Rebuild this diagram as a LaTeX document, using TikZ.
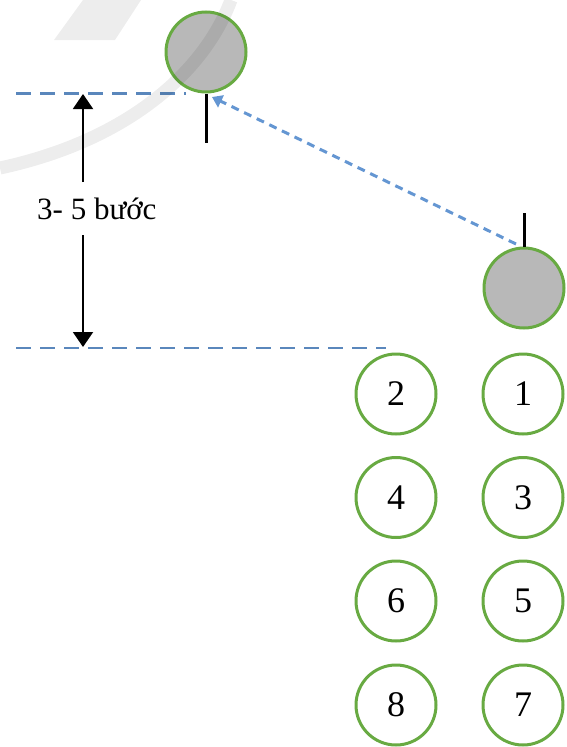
\documentclass[tikz,border=0pt]{standalone}
\usepackage{fontspec}
\setmainfont{Liberation Serif}
\usetikzlibrary{arrows.meta}
\definecolor{cgreen}{RGB}{104,170,66}
\definecolor{cgray}{RGB}{184,184,184}
\definecolor{cblue}{RGB}{90,135,188}
\definecolor{cblue2}{RGB}{100,150,210}
\tikzset{
  player/.style={circle, draw=cgreen, line width=3pt, fill=cgray, minimum size=80pt, inner sep=0pt},
  numbox/.style={circle, draw=cgreen, line width=3pt, fill=white, minimum size=80pt, inner sep=0pt, font=\fontsize{36}{36}\selectfont},
  guide/.style={cblue, dash pattern=on 15pt off 9pt},
  tickline/.style={black, line width=3pt},
  measure/.style={black, line width=2pt, -{Triangle[width=20pt,length=15pt]}},
  runpath/.style={cblue2, line width=3pt, dash pattern=on 8pt off 6pt, -{Triangle[width=13pt,length=10pt]}},
  watermark/.style={black, opacity=0.07},
}
\begin{document}
\begin{tikzpicture}[x=1pt,y=-1pt]
\useasboundingbox (0,0) rectangle (566,747);
% players
\node[player] (p0) at (206,52) {};
\node[player] (p1) at (524,288) {};
\coordinate (t0) at (206,143);
\coordinate (t1) at (524,213);
\draw[tickline] (p0.south) -- (t0);
\draw[tickline] (p1.north) -- (t1);
% guide lines
\coordinate (g1a) at (16,93);
\coordinate (g1b) at (186,93);
\coordinate (g2a) at (16,348);
\coordinate (g2b) at (386,348);
\draw[guide, line width=3pt] (g1a) -- (g1b);
\draw[guide, line width=2pt] (g2a) -- (g2b);
% measure
\node[font=\fontsize{31}{31}\selectfont, inner sep=0pt, anchor=base west] (lbl) at (37,219) {3- 5 bước};
\coordinate (aup) at (83,94);
\coordinate (adn) at (83,347);
\coordinate (s1) at (83,182);
\coordinate (s2) at (83,235);
\draw[measure] (s1) -- (aup);
\draw[measure] (s2) -- (adn);
% run path
\coordinate (r0) at (516,244);
\coordinate (r1) at (212,97);
\draw[runpath] (r0) -- (r1);
% numbered
\node[numbox] (n1) at (523,394) {1};
\node[numbox] (n2) at (396,394) {2};
\node[numbox] (n3) at (523,497.5) {3};
\node[numbox] (n4) at (396,497.5) {4};
\node[numbox] (n5) at (523,601) {5};
\node[numbox] (n6) at (396,601) {6};
\node[numbox] (n7) at (523,705) {7};
\node[numbox] (n8) at (396,705) {8};
% faint watermark over everything
\fill[watermark] (83,0) -- (141,0) -- (115,40) -- (54,40) -- cycle;
\draw[watermark, line width=13pt] (231,0) .. controls (205,70) and (130,140) .. (0,168);
\end{tikzpicture}
\end{document}
